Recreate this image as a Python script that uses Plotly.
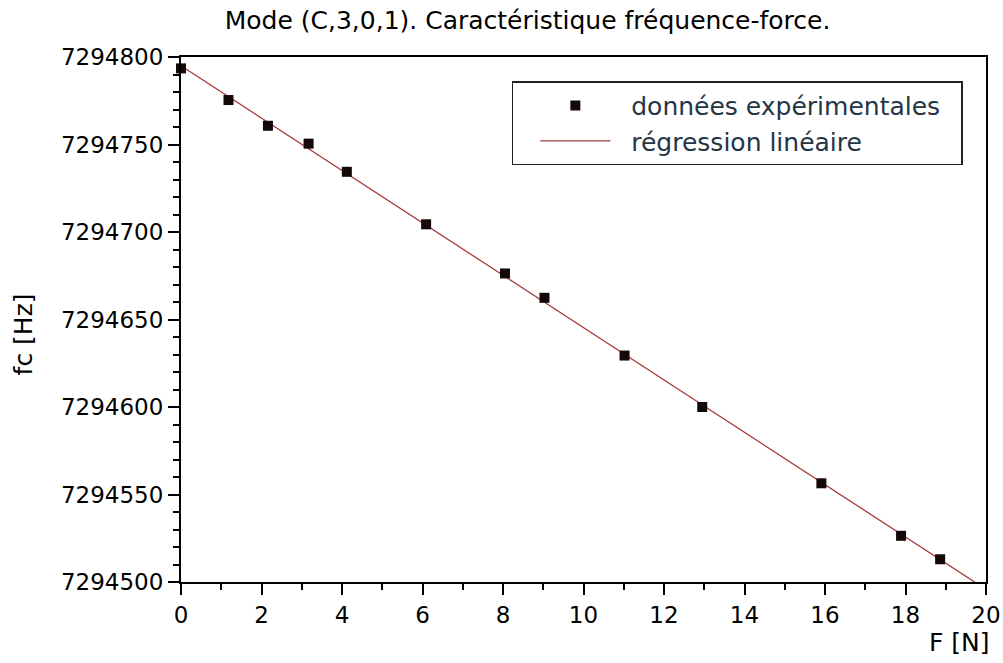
import numpy as np
import plotly.graph_objects as go

# Measured force (N) and resonance frequency (Hz)
force_N = [0.0, 1.18, 2.16, 3.17, 4.12, 6.09, 8.05, 9.03, 11.02, 12.95, 15.91, 17.89, 18.86]
freq_Hz = [7294793.5, 7294775.4, 7294760.7, 7294750.5, 7294734.4, 7294704.4, 7294676.3,
           7294662.4, 7294629.4, 7294600.0, 7294556.4, 7294526.4, 7294513.0]

x_ticks = [0, 2, 4, 6, 8, 10, 12, 14, 16, 18, 20]
y_ticks = [7294500, 7294550, 7294600, 7294650, 7294700, 7294750, 7294800]

# Least-squares straight line through the measurements
slope, intercept = np.polyfit(force_N, freq_Hz, 1)
fit_x = np.array([0.0, 20.0])
fit_y = slope * fit_x + intercept

FONT = "DejaVu Sans"
PAD = "\u00a0\u00a0"

fig = go.Figure()
fig.add_trace(go.Scatter(
    x=fit_x, y=fit_y, mode="lines", name=PAD + "régression linéaire",
    line=dict(color="#a83a3a", width=1.3),
))
fig.add_trace(go.Scatter(
    x=force_N, y=freq_Hz, mode="markers", name=PAD + "données expérimentales" + PAD,
    marker=dict(symbol="square", size=10, color="#150808", line=dict(width=0)),
    cliponaxis=False,
))

axis_common = dict(
    showline=True, linecolor="black", linewidth=2, mirror=True,
    ticks="outside", tickcolor="black", tickwidth=2, ticklen=11,
    showgrid=False, zeroline=False, automargin=False,
    tickfont=dict(family=FONT, size=23, color="black"),
)

fig.update_xaxes(
    range=[0, 20], tickvals=x_ticks,
    minor=dict(dtick=1, ticks="outside", ticklen=6, tickwidth=2, tickcolor="black", showgrid=False),
    **axis_common,
)
fig.update_yaxes(
    range=[7294500, 7294800], tickvals=y_ticks, tickformat="d",
    minor=dict(dtick=10, ticks="outside", ticklen=6, tickwidth=2, tickcolor="black", showgrid=False),
    **axis_common,
)

fig.update_layout(
    template="none",
    width=1003, height=663,
    margin=dict(l=181, r=17, t=57, b=81),
    paper_bgcolor="white", plot_bgcolor="white",
    title=dict(
        text="Mode (C,3,0,1). Caractéristique fréquence-force.",
        font=dict(family=FONT, size=25, color="black"),
        x=0.526, xanchor="center", xref="container", y=0.969, yanchor="middle", yref="container",
    ),
    showlegend=True,
    legend=dict(
        x=0.411, y=0.954, xanchor="left", yanchor="top",
        bgcolor="white", bordercolor="#222222", borderwidth=1.5,
        font=dict(family=FONT, size=25, color="#253545"),
        traceorder="reversed", itemwidth=70, indentation=22,
    ),
    annotations=[
        dict(text="fc [Hz]", textangle=-90, xref="paper", yref="paper",
             x=-0.196, y=0.472, xanchor="center", yanchor="middle",
             showarrow=False, font=dict(family=FONT, size=25, color="black")),
        dict(text="F [N]", xref="paper", yref="paper", x=1.008, y=-0.116,
             xanchor="right", yanchor="middle", showarrow=False,
             font=dict(family=FONT, size=25, color="black")),
    ],
)

fig.write_html("out.html")
